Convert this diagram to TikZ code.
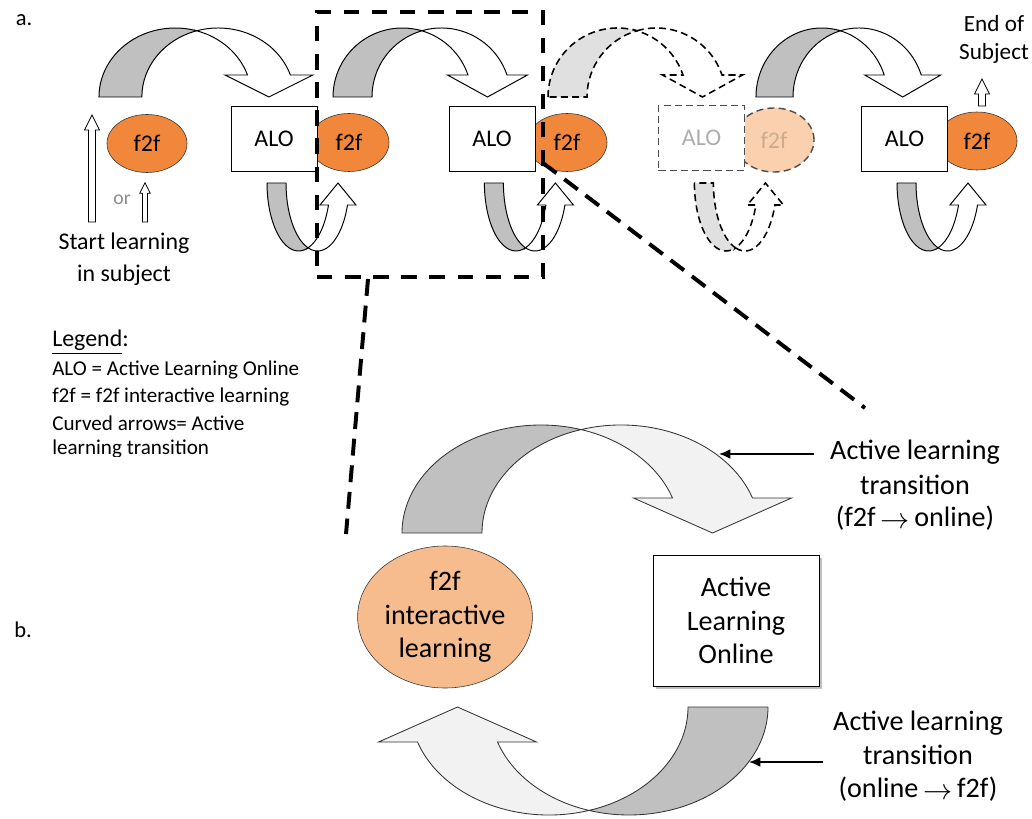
\documentclass[tikz,border=0pt]{standalone}
\usepackage{fontspec}
\setmainfont{Carlito}
\usepackage{tikz}
\usetikzlibrary{shapes.geometric,arrows.meta,shadows}

\definecolor{f2forange}{RGB}{241,135,58}
\definecolor{f2fsoft}{RGB}{246,188,142}
\definecolor{f2fpale}{RGB}{250,208,175}
\definecolor{ghosttext}{RGB}{205,172,142}
\definecolor{backgray}{RGB}{192,192,192}
\definecolor{frontgray}{RGB}{242,242,242}
\definecolor{dotgray}{RGB}{224,224,224}

% curved block arrow: back half, front half with head
% #1 back style, #2 front style, #3 x radius, #4 y radius,
% #5 shaft width, #6 head rise, #7 head half width
\newcommand{\turnarrow}[7]{%
	\pgfmathsetmacro\tacross{acos(#5/(2*#3))}%
	\pgfmathsetmacro\taA{360-\tacross}%
	\pgfmathsetmacro\taB{180+\tacross}%
	\pgfmathsetmacro\tabase{360-asin(#6/#4)}%
	\pgfmathsetmacro\tahx{#3*cos(\tabase)}%
	\pgfmathsetmacro\tacy{-#4*sin(\tacross)}%
	\pgfmathsetmacro\tatip{#5/2+\tahx}%
	\draw[#1] (-#3,0) arc[start angle=180, end angle=\taA, x radius=#3, y radius=#4]
		arc[start angle=\taB, end angle=180, x radius=#3, y radius=#4] -- cycle;
	\draw[#2] (#5/2,\tacy) arc[start angle=\taB, end angle=\tabase, x radius=#3, y radius=#4]
		-- (\tatip+#7,-#6) -- (\tatip,0) -- (\tatip-#7,-#6) -- (\tahx,-#6)
		arc[start angle=\tabase, end angle=\taA, x radius=#3, y radius=#4] -- cycle;
}

\newcommand{\smallto}{\,\raisebox{-0.15ex}{$\rightarrow$}\,}

\tikzset{
	alo/.style={draw, fill=white, minimum width=2.15cm, minimum height=1.625cm,
		inner sep=0pt, font=\fontsize{17}{20}\selectfont},
	f2f/.style={ellipse, draw=black!80, fill=f2forange, minimum width=2cm,
		minimum height=1.45cm, inner sep=0pt, font=\fontsize{17}{20}\selectfont},
	ghostalo/.style={alo, draw=black!70, line width=1pt, dash pattern=on 5pt off 3pt, text=black!32},
	ghostf2f/.style={f2f, draw=black!70, line width=1pt, dash pattern=on 5pt off 3pt,
		fill=f2fpale, minimum height=1.6cm, text=ghosttext},
	backpart/.style={draw, line width=0.7pt, fill=backgray},
	frontpart/.style={draw, line width=0.7pt, fill=white},
	ghostback/.style={draw, line width=1.1pt, dash pattern=on 5pt off 3pt, fill=dotgray},
	ghostfront/.style={draw, line width=1.1pt, dash pattern=on 5pt off 3pt, fill=white},
	bigback/.style={draw=black!80, line width=0.6pt, fill=backgray},
	bigfront/.style={draw=black!80, line width=0.6pt, fill=frontgray},
	zoomframe/.style={draw, line width=3pt, dash pattern=on 11pt off 9pt},
	guide/.style={line width=2.8pt, dash pattern=on 12pt off 7pt},
	pointer/.style={line width=1.4pt, -{Latex[length=8pt,width=7pt]}},
	panel/.style={font=\fontsize{16}{19}\selectfont},
	blabel/.style={inner sep=1pt, font=\fontsize{20}{24}\selectfont},
	legendtxt/.style={anchor=west, inner sep=0pt, font=\fontsize{15}{18}\selectfont},
	uparrow/.pic={
		\draw[fill=white, line width=0.6pt] (-3.5,0) -- (-3.5,-#1+15) -- (-7.5,-#1+15)
			-- (0,-#1) -- (7.5,-#1+15) -- (3.5,-#1+15) -- (3.5,0) -- cycle;
	}
}

\begin{document}
\begin{tikzpicture}[x=0.025cm, y=-0.025cm]

	\useasboundingbox (0,0) rectangle (1032,819);

	% panel letters
	\node[panel] (pa) at (24,20) {a.};
	\node[panel] (pb) at (23,630) {b.};

	% curved arrows over the sessions
	\begin{scope}[shift={(175.2,97)}, xscale=1.1]
		\turnarrow{backpart}{frontpart}{69.3}{69}{39}{22}{40}
	\end{scope}
	\begin{scope}[shift={(402.3,97)}]
		\turnarrow{backpart}{frontpart}{69.3}{69}{39}{22}{40}
	\end{scope}
	\begin{scope}[shift={(617.3,97)}]
		\turnarrow{ghostback}{ghostfront}{69.3}{69}{39}{22}{40}
	\end{scope}
	\begin{scope}[shift={(821.8,97)}, xscale=0.95]
		\turnarrow{backpart}{frontpart}{69.3}{69}{39}{22}{40}
	\end{scope}

	% curved arrows under the sessions
	\begin{scope}[shift={(298.6,183)}, yscale=-1]
		\turnarrow{backpart}{frontpart}{31.6}{68}{19}{22}{18}
	\end{scope}
	\begin{scope}[shift={(516,183)}, yscale=-1]
		\turnarrow{backpart}{frontpart}{31.6}{68}{19}{22}{18}
	\end{scope}
	\begin{scope}[shift={(726,183)}, yscale=-1]
		\turnarrow{ghostback}{ghostfront}{31.6}{68}{19}{22}{18}
	\end{scope}
	\begin{scope}[shift={(928.6,183)}, yscale=-1]
		\turnarrow{backpart}{frontpart}{31.6}{68}{19}{22}{18}
	\end{scope}

	% sessions
	\node[f2f] (f2f1) at (147,143.5) {f2f};
	\node[f2f] (f2f2) at (349,142.5) {f2f};
	\node[alo] (alo1) at (274,138.5) {ALO};
	\node[f2f] (f2f3) at (567,142.5) {f2f};
	\node[alo] (alo2) at (492,138.5) {ALO};
	\node[ghostf2f] (f2f4) at (774,140) {f2f};
	\node[ghostalo] (alo3) at (701.5,138) {ALO};
	\node[f2f] (f2f5) at (977,141) {f2f};
	\node[alo] (alo4) at (904.5,138.5) {ALO};

	% start and end
	\pic at (92,222) {uparrow=107};
	\pic[scale=0.7] at (145,222) {uparrow=56};
	\pic at (982,106) {uparrow=27};
	\node[font=\fontsize{14}{17}\selectfont, text=black!45] (orlbl) at (122,200) {or};
	\node[align=center, font=\fontsize{17}{22.7}\selectfont] (startlbl) at (124,259)
		{Start learning\\in subject};
	\node[align=center, font=\fontsize{16.5}{20}\selectfont] (endlbl) at (994,39)
		{End of\\Subject};

	% legend
	\node[legendtxt, font=\fontsize{17}{20}\selectfont] (leg0) at (52,342) {\underline{Legend}:};
	\node[legendtxt] (leg1) at (52,370) {ALO = Active Learning Online};
	\node[legendtxt] (leg2) at (52,397) {f2f = f2f interactive learning};
	\node[legendtxt] (leg3) at (52,423) {Curved arrows= Active};
	\begin{scope}
		\clip (0,0) rectangle (330,456);
		\node[legendtxt] (leg4) at (52,449) {learning transition};
	\end{scope}

	% enlarged cycle
	\begin{scope}[shift={(541,533)}]
		\turnarrow{bigback}{bigfront}{139}{108}{80}{35}{79}
	\end{scope}
	\begin{scope}[shift={(629,707)}, rotate=180]
		\turnarrow{bigback}{bigfront}{139}{108}{80}{35}{79}
	\end{scope}
	\node[ellipse, draw=black!80, fill=f2fsoft, minimum width=4.35cm, minimum height=3.55cm,
		align=center, blabel] (bigf2f) at (445,617) {f2f\\interactive\\learning};
	\node[draw, fill=white, minimum width=4.15cm, minimum height=3.275cm, align=center, blabel,
		drop shadow={shadow xshift=2pt, shadow yshift=-2pt}] (bigalo) at (736,620.5)
		{Active\\Learning\\Online};

	% transition labels
	\node[blabel] (ta1) at (915,452) {Active learning};
	\node[blabel] (ta2) at (915,485) {transition};
	\node[blabel] (ta3) at (915,518) {(f2f\smallto online)};
	\node[blabel] (ba1) at (918,723) {Active learning};
	\node[blabel] (ba2) at (918,755) {transition};
	\node[blabel] (ba3) at (918,789) {(online\smallto f2f)};
	\coordinate (tpt) at (719,454);
	\coordinate (bpt) at (749,762);
	\draw[pointer] ([xshift=-10pt]ta1.west |- tpt) -- (tpt);
	\draw[pointer] ([xshift=-6pt]ba1.west |- bpt) -- (bpt);

	% zoom frame and guide lines
	\node[zoomframe, minimum width=5.65cm, minimum height=6.625cm] (zoom) at (430,144.5) {};
	\coordinate (gl) at (368,279);
	\coordinate (bl) at (346,534);
	\coordinate (gr) at (543,163);
	\coordinate (br) at (865,408);
	\draw[guide] (gl) -- (bl);
	\draw[guide] (gr) -- (br);

\end{tikzpicture}
\end{document}
